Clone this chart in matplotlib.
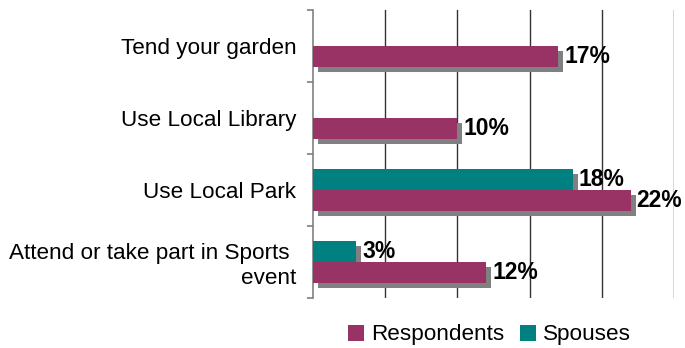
import matplotlib
matplotlib.use('Agg')
import matplotlib.pyplot as plt
import matplotlib.transforms as mtransforms
import numpy as np

plt.rcParams['font.family'] = ['Liberation Sans', 'DejaVu Sans']

# survey data, listed top to bottom
categories = ["Tend your garden", "Use Local Library", "Use Local Park",
              "Attend or take part in Sports \nevent"]
respondents = [17, 10, 22, 12]
spouses = [None, None, 18, 3]

col_resp = '#993366'
col_spouse = '#008080'
col_shadow = '#808080'

fig = plt.figure(figsize=(6.85, 3.48), dpi=100)
ax = fig.add_axes([313/685, 1-298/348, 361/685, 288/348])

y = np.arange(len(categories))
h = 0.29
off = 0.148

# drop shadow: same bars shifted 5px right and 5px down
shadow = ax.transData + mtransforms.ScaledTranslation(5/100, -5/100, fig.dpi_scale_trans)

ys_resp = y + off
sp_y = [yy - off for yy, v in zip(y, spouses) if v is not None]
sp_v = [v for v in spouses if v is not None]

ax.barh(ys_resp, respondents, height=h, color=col_shadow, transform=shadow, zorder=2)
ax.barh(sp_y, sp_v, height=h, color=col_shadow, transform=shadow, zorder=2)
ax.barh(ys_resp, respondents, height=h, color=col_resp, zorder=3, label='Respondents')
ax.barh(sp_y, sp_v, height=h, color=col_spouse, zorder=3, label='Spouses')

for yy, v in list(zip(ys_resp, respondents)) + list(zip(sp_y, sp_v)):
    ax.annotate(f"{v}%", (v, yy), xytext=(4.3, 0), textcoords='offset points',
                va='center', ha='left', fontsize=16.5, fontweight='bold', zorder=4,
                annotation_clip=False)

ax.set_xlim(0, 25)
ax.set_ylim(len(categories) - 0.5, -0.5)

for gx in [5, 10, 15, 20, 25]:
    ax.axvline(gx, color='#333333', lw=1, zorder=1)

for s in ['top', 'right', 'bottom']:
    ax.spines[s].set_visible(False)
ax.spines['left'].set_color('#808080')
ax.spines['left'].set_linewidth(1.2)

ax.set_xticks([])
ax.set_yticks(np.arange(len(categories) + 1) - 0.5)
ax.set_yticklabels([])
ax.set_yticks(y, minor=True)
ax.set_yticklabels(categories, minor=True, fontsize=16.2, ha='right')
ax.tick_params(axis='y', which='major', direction='out', length=4, color='#808080', width=1.2)
ax.tick_params(axis='y', which='minor', length=0, pad=12)

handles, labels = ax.get_legend_handles_labels()
fig.legend(handles, labels, loc='center', bbox_to_anchor=(0.7146, 0.0374),
           ncol=2, frameon=False, fontsize=16.2, handlelength=0.72, handleheight=0.72,
           handletextpad=0.3, columnspacing=0.7, borderpad=0, borderaxespad=0)

fig.savefig('out.png', dpi=100)
